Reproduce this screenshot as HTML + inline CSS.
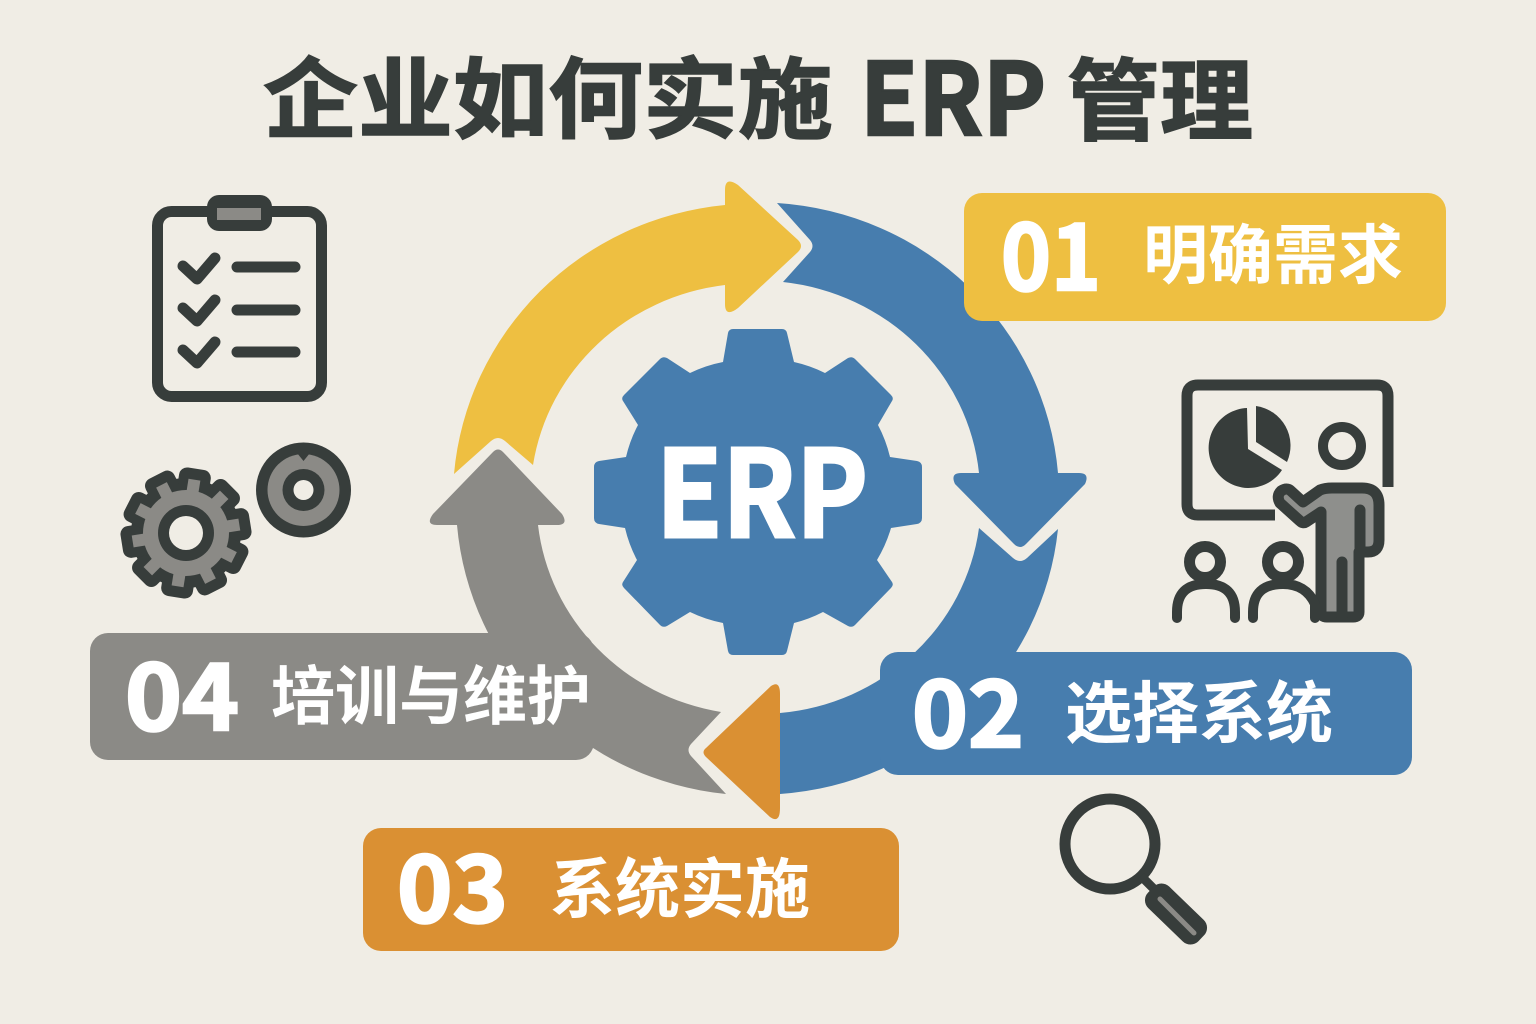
<!DOCTYPE html>
<html lang="zh">
<head>
<meta charset="utf-8">
<title>企业如何实施 ERP 管理</title>
<style>
html,body{margin:0;padding:0;background:#f0ede5;}
svg{display:block;}
text{font-family:"Noto Sans CJK SC","Liberation Sans",sans-serif;font-weight:700;}
</style>
</head>
<body>
<svg width="1536" height="1024" viewBox="0 0 1536 1024" xmlns="http://www.w3.org/2000/svg">
<rect width="1536" height="1024" fill="#f0ede5"/>

<!-- Title -->
<g fill="#373d3b" stroke="#373d3b" stroke-width="1.6">
<text transform="translate(263,131) scale(1,.93)" font-size="95">企业如何实施</text>
<text x="860" y="135" font-size="100" stroke-width="2.500" textLength="186" lengthAdjust="spacingAndGlyphs">ERP</text>
<text transform="translate(1067,133) scale(1,.96)" font-size="93">管理</text>
</g>

<!-- Ring -->
<path d="M1058 529 A301 296 0 0 1 780 794 L780 713 A221 214 0 0 0 979 528 L1013 558 Q1020 564 1027 558 Z" fill="#477dae"/>
<path d="M503 452 L562 514 Q569 525 557 525 L538 525 A221 214 0 0 0 721 712 L691 744 Q686 750 691 756 L726 794 A300 296 0 0 1 457 525 L437 525 Q425 525 433 514 L493 452 Q498 447 503 452 Z" fill="#8b8a86"/>
<path d="M777 203 A301 296 0 0 1 1058 473 L1079 473 Q1090 473 1085 484 L1026 544 Q1020 550 1014 544 L955 484 Q950 473 961 473 L979 473 A222 214 0 0 0 783 282 L810 252 Q815 246 810 240 Z" fill="#477dae"/>
<path d="M454 474 A301 296 0 0 1 725 205 L725 190 Q725 176 738 185 L798 240 Q804 246 798 252 L738 308 Q725 318 725 304 L725 285 A222 214 0 0 0 533 465 L505 441 Q498 435 491 441 Z" fill="#eebf41"/>
<path d="M771 686 Q780 680 780 694 L780 808 Q780 824 770 817 L706 757 Q701 752 706 748 Z" fill="#da9033"/>

<!-- Gear -->
<path d="M723 362 L728 333 Q729 329 733 329 L782 329 Q786 329 787 333 L794 362 A134 134 0 0 1 825 373 L848 358 Q852 356 855 359 L891 395 Q894 398 892 401 L878 425 A134 134 0 0 1 890 457 L917 461 Q922 462 922 467 L922 518 Q922 523 917 524 L891 528 A134 134 0 0 1 877 560 L892 582 Q894 585 891 588 L855 625 Q852 628 848 626 L823 612 A134 134 0 0 1 794 623 L787 651 Q786 655 782 655 L733 655 Q729 655 728 651 L723 623 A134 134 0 0 1 690 612 L667 626 Q663 628 660 625 L624 588 Q621 585 623 582 L637 560 A134 134 0 0 1 625 528 L599 524 Q594 523 594 518 L594 467 Q594 462 599 461 L626 457 A134 134 0 0 1 638 425 L623 401 Q621 398 624 395 L660 359 Q663 356 667 358 L690 373 A134 134 0 0 1 723 362 Z" fill="#477dae"/>
<text x="656" y="537" font-size="120" fill="#fff" stroke="#fff" stroke-width="3" textLength="212" lengthAdjust="spacingAndGlyphs">ERP</text>

<!-- Label 01 -->
<rect x="964" y="193" width="482" height="128" rx="18" fill="#eebf41"/>
<text x="1001" y="290" font-size="90" fill="#fff" stroke="#fff" stroke-width="2.500" textLength="100" lengthAdjust="spacingAndGlyphs">01</text>
<text x="1143" y="278" font-size="65" fill="#fff">明确需求</text>

<!-- Label 02 -->
<rect x="880" y="652" width="532" height="123" rx="18" fill="#477dae"/>
<text x="912" y="747" font-size="90" fill="#fff" stroke="#fff" stroke-width="2.500" textLength="112" lengthAdjust="spacingAndGlyphs">02</text>
<text x="1065" y="737" font-size="67" fill="#fff">选择系统</text>

<!-- Label 03 -->
<rect x="363" y="828" width="536" height="123" rx="18" fill="#da9033"/>
<text x="397" y="922" font-size="90" fill="#fff" stroke="#fff" stroke-width="2.500" textLength="111" lengthAdjust="spacingAndGlyphs">03</text>
<text x="550" y="912" font-size="65" fill="#fff">系统实施</text>

<!-- Label 04 -->
<rect x="90" y="633" width="504" height="127" rx="18" fill="#8b8a86"/>
<text x="125" y="730" font-size="90" fill="#fff" stroke="#fff" stroke-width="2.500" textLength="114" lengthAdjust="spacingAndGlyphs">04</text>
<text x="271" y="719" font-size="64" fill="#fff">培训与维护</text>

<!-- Clipboard icon -->
<g fill="none" stroke="#373d3b" stroke-linecap="round" stroke-linejoin="round">
<rect x="157.500" y="211.500" width="164" height="185" rx="14" stroke-width="11"/>
<rect x="207" y="195" width="65" height="36" rx="12" fill="#373d3b" stroke="none"/>
<rect x="217" y="208" width="44" height="12" fill="#8b8a86" stroke="none"/>
<path d="M183 266 L197 279 L215 258 M183 308 L197 321 L215 300 M183 350 L197 363 L215 342" stroke-width="11"/>
<path d="M237 267 H295 M237 310 H295 M237 352 H295" stroke-width="11"/>
</g>

<!-- Gears icon -->
<g fill="#373d3b">
<circle cx="186" cy="533" r="55"/>
<g transform="rotate(9 186 533)">
<rect x="170" y="468" width="32" height="130" rx="8"/>
<rect x="170" y="468" width="32" height="130" rx="8" transform="rotate(36 186 533)"/>
<rect x="170" y="468" width="32" height="130" rx="8" transform="rotate(72 186 533)"/>
<rect x="170" y="468" width="32" height="130" rx="8" transform="rotate(108 186 533)"/>
<rect x="170" y="468" width="32" height="130" rx="8" transform="rotate(144 186 533)"/>
</g>
</g>
<g fill="#8b8a86" transform="rotate(9 186 533)">
<rect x="180" y="479" width="12" height="108"/>
<rect x="180" y="479" width="12" height="108" transform="rotate(36 186 533)"/>
<rect x="180" y="479" width="12" height="108" transform="rotate(72 186 533)"/>
<rect x="180" y="479" width="12" height="108" transform="rotate(108 186 533)"/>
<rect x="180" y="479" width="12" height="108" transform="rotate(144 186 533)"/>
</g>
<circle cx="186" cy="533" r="43" fill="#8b8a86"/>
<circle cx="186" cy="533" r="28" fill="#373d3b"/>
<circle cx="186" cy="533" r="17" fill="#f0ede5"/>
<circle cx="303.500" cy="490" r="47.500" fill="#373d3b"/>
<circle cx="303.500" cy="490" r="36" fill="#8b8a86"/>
<path d="M297 453 L310 453 L303.500 461 Z" fill="#373d3b"/>
<circle cx="303.500" cy="490" r="21" fill="#373d3b"/>
<circle cx="303.500" cy="490" r="10" fill="#f0ede5"/>

<!-- Presentation icon -->
<g fill="none" stroke="#373d3b" stroke-linecap="butt" stroke-linejoin="round">
<path d="M1275 515 H1198 Q1187 515 1187 504 V396 Q1187 385 1198 385 H1377 Q1388 385 1388 396 V487" stroke-width="11"/>
<path d="M1247 408 A40 40 0 1 0 1282 470 L1248 449 Z" fill="#373d3b" stroke="none"/>
<path d="M1256 406 A40 40 0 0 1 1287 462 L1256 442 Z" fill="#373d3b" stroke="none"/>
<circle cx="1342" cy="446" r="19" stroke-width="10"/>
<path d="M1281 491 Q1287 487 1291 491 L1303 502 L1320 490 Q1325 488 1332 488 L1362 488 Q1379 488 1379 505 L1379 540 Q1379 552 1368 552 L1359 552 L1359 612 Q1359 617 1353 617 L1327 617 Q1321 617 1321 612 L1321 512 L1306 522 Q1303 524 1300 521 L1280 503 Q1276 496 1281 491 Z" fill="#8e8f8c" stroke-width="11"/>
<path d="M1360 510 V552" stroke-width="11" stroke-linecap="round"/>
<path d="M1342 562 V617" stroke-width="11" stroke-linecap="round"/>
<circle cx="1205" cy="562" r="15.500" stroke-width="11"/>
<path d="M1177 618 V612 Q1177 584 1206 584 Q1235 584 1235 612 V618" stroke-width="10" stroke-linecap="round"/>
<circle cx="1283" cy="562" r="15.500" stroke-width="11"/>
<path d="M1253 618 V612 Q1253 584 1283 584 Q1306 584 1315 604 V618" stroke-width="10" stroke-linecap="round"/>
</g>

<!-- Magnifier -->
<circle cx="1110" cy="844" r="45" fill="none" stroke="#373d3b" stroke-width="11"/>
<path d="M1141 876 L1156 891" stroke="#373d3b" stroke-width="9"/>
<rect x="1141" y="899" width="70" height="30" rx="11" fill="#373d3b" transform="rotate(44 1176 914)"/>
<path d="M1160 899 L1194 933" stroke="#8b8a86" stroke-width="5" stroke-linecap="round"/>
</svg>
</body>
</html>
